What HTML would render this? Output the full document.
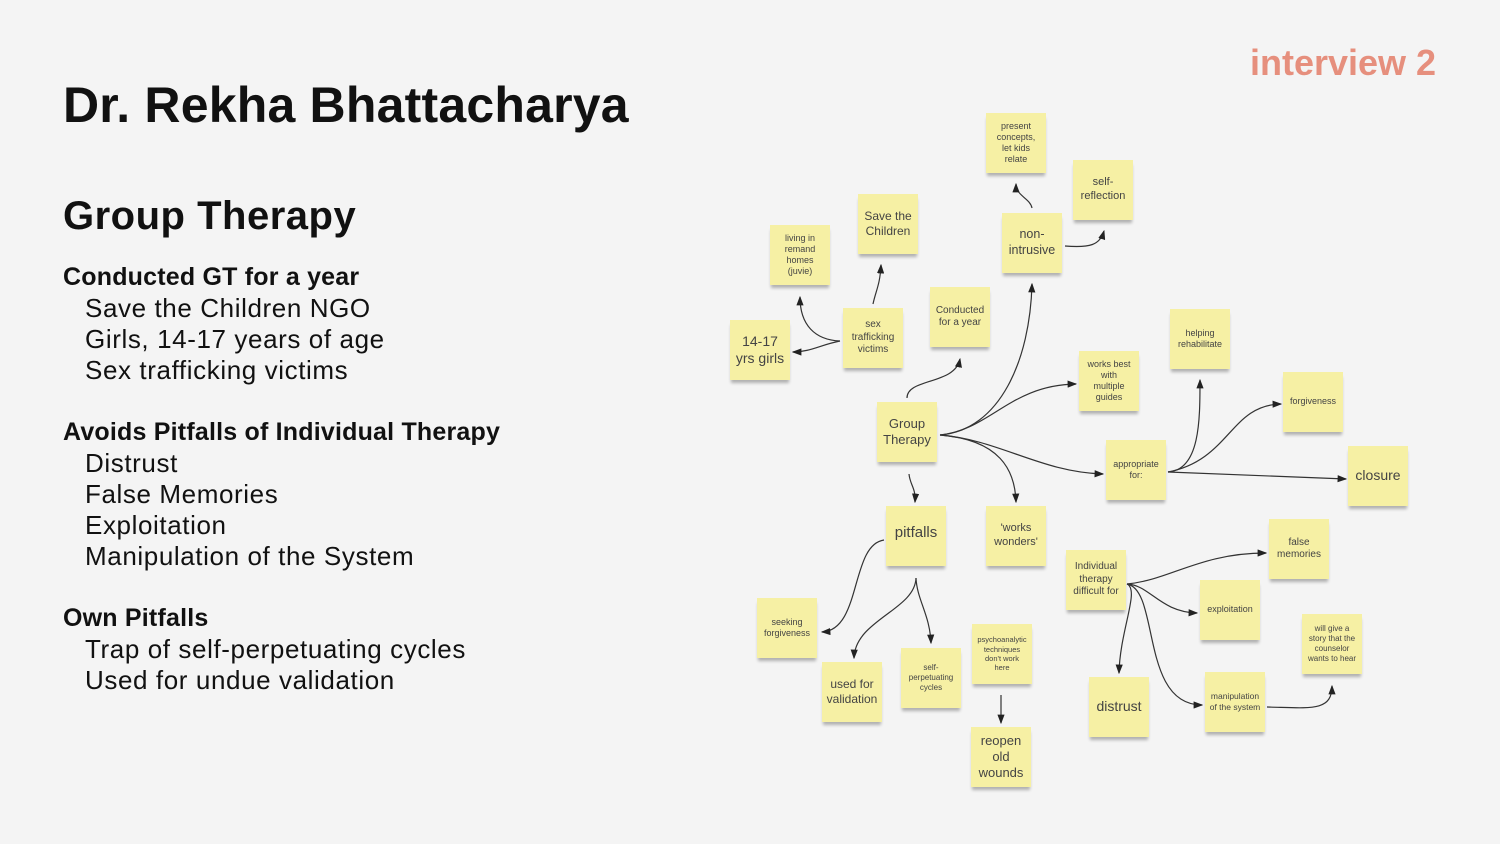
<!DOCTYPE html>
<html><head><meta charset="utf-8"><style>
body{margin:0;width:1500px;height:844px;background:#f4f4f4;position:relative;overflow:hidden;font-family:"Liberation Sans",sans-serif;color:#111}
.t{position:absolute;white-space:nowrap}
.n{position:absolute;width:60px;height:60px;background:#f6f0a4;box-shadow:0 4px 3px -1px rgba(0,0,0,0.28);display:flex;align-items:center;justify-content:center;text-align:center;color:#444;line-height:1.25;font-size:9px}
svg{position:absolute;left:0;top:0}
h4{margin:0;font-weight:bold;font-size:25px;letter-spacing:0.2px}
</style></head><body>
<div class="t" style="left:63px;top:76px;font-size:50px;font-weight:bold;letter-spacing:0.2px">Dr. Rekha Bhattacharya</div>
<div class="t" style="left:1250px;top:42px;font-size:36px;color:#e68f7d;font-weight:bold">interview 2</div>
<div class="t" style="left:63px;top:194px;font-size:40px;font-weight:bold;letter-spacing:0.5px">Group Therapy</div>
<div class="t" style="left:63px;top:262px;font-size:26px;line-height:31px;letter-spacing:0.6px">
<h4>Conducted GT for a year</h4>
<div style="padding-left:22px">Save the Children NGO<br>Girls, 14-17 years of age<br>Sex trafficking victims</div>
<div style="height:31px"></div>
<h4>Avoids Pitfalls of Individual Therapy</h4>
<div style="padding-left:22px">Distrust<br>False Memories<br>Exploitation<br>Manipulation of the System</div>
<div style="height:31px"></div>
<h4>Own Pitfalls</h4>
<div style="padding-left:22px">Trap of self-perpetuating cycles<br>Used for undue validation</div>
</div>
<svg width="1500" height="844"><defs><marker id="a" markerWidth="8" markerHeight="6" refX="7" refY="3" orient="auto"><path d="M0,0L8,3L0,6z" fill="#222"/></marker></defs>
<g fill="none" stroke="#333" stroke-width="1.2" marker-end="url(#a)">
<path d="M1032,208 C1030,198 1016,196 1016,184"/>
<path d="M1065,246 C1090,248 1100,245 1104,231"/>
<path d="M873,304 C876,290 880,285 881,265"/>
<path d="M840,341 C815,340 800,325 800,297"/>
<path d="M840,341 C820,345 810,352 793,352"/>
<path d="M907,398 C907,378 955,385 960,359"/>
<path d="M940,435 C1000,430 1030,360 1032,284"/>
<path d="M940,435 C990,430 1010,385 1076,384"/>
<path d="M940,435 C1000,440 1040,472 1103,474"/>
<path d="M940,435 C1000,440 1015,470 1016,502"/>
<path d="M909,474 C910,485 916,488 915,502"/>
<path d="M1168,472 C1200,470 1200,420 1200,380"/>
<path d="M1168,472 C1230,460 1230,405 1281,404"/>
<path d="M1168,472 L1346,479"/>
<path d="M884,540 C850,545 862,630 822,632"/>
<path d="M916,578 C915,610 855,620 854,658"/>
<path d="M916,578 C917,600 930,615 931,643"/>
<path d="M1001,695 L1001,723"/>
<path d="M1127,584 C1170,580 1200,553 1266,553"/>
<path d="M1127,584 C1150,585 1160,612 1197,613"/>
<path d="M1127,584 C1140,590 1120,630 1119,673"/>
<path d="M1127,584 C1160,590 1140,705 1202,705"/>
<path d="M1267,707 C1310,708 1332,712 1332,686"/>
</g></svg>
<div class="n" style="left:986px;top:113px">present<br>concepts,<br>let kids<br>relate</div>
<div class="n" style="left:1073px;top:160px;font-size:11px">self-<br>reflection</div>
<div class="n" style="left:858px;top:194px;font-size:12px">Save the<br>Children</div>
<div class="n" style="left:770px;top:225px">living in<br>remand<br>homes<br>(juvie)</div>
<div class="n" style="left:1002px;top:213px;font-size:12.5px">non-<br>intrusive</div>
<div class="n" style="left:930px;top:287px;font-size:10px">Conducted<br>for a year</div>
<div class="n" style="left:730px;top:320px;font-size:14px">14-17<br>yrs girls</div>
<div class="n" style="left:843px;top:308px;font-size:10px">sex<br>trafficking<br>victims</div>
<div class="n" style="left:1170px;top:309px">helping<br>rehabilitate</div>
<div class="n" style="left:1079px;top:351px">works best<br>with<br>multiple<br>guides</div>
<div class="n" style="left:1283px;top:372px">forgiveness</div>
<div class="n" style="left:877px;top:402px;font-size:13px">Group<br>Therapy</div>
<div class="n" style="left:1106px;top:440px">appropriate<br>for:</div>
<div class="n" style="left:1348px;top:446px;font-size:14px">closure</div>
<div class="n" style="left:886px;top:506px;font-size:15px;align-items:flex-start;padding-top:0"><span style="margin-top:18px">pitfalls</span></div>
<div class="n" style="left:986px;top:506px;font-size:11px">'works<br>wonders'</div>
<div class="n" style="left:1269px;top:519px;font-size:10px">false<br>memories</div>
<div class="n" style="left:1066px;top:550px;font-size:10px">Individual<br>therapy<br>difficult for</div>
<div class="n" style="left:1200px;top:580px">exploitation</div>
<div class="n" style="left:757px;top:598px">seeking<br>forgiveness</div>
<div class="n" style="left:1302px;top:614px;font-size:8px">will give a<br>story that the<br>counselor<br>wants to hear</div>
<div class="n" style="left:972px;top:624px;font-size:7.5px">psychoanalytic<br>techniques<br>don't work<br>here</div>
<div class="n" style="left:901px;top:648px;font-size:8px">self-<br>perpetuating<br>cycles</div>
<div class="n" style="left:822px;top:662px;font-size:12px">used for<br>validation</div>
<div class="n" style="left:1089px;top:677px;font-size:14px">distrust</div>
<div class="n" style="left:1205px;top:672px;font-size:8.5px">manipulation<br>of the system</div>
<div class="n" style="left:971px;top:727px;font-size:13px">reopen<br>old<br>wounds</div>
</body></html>
